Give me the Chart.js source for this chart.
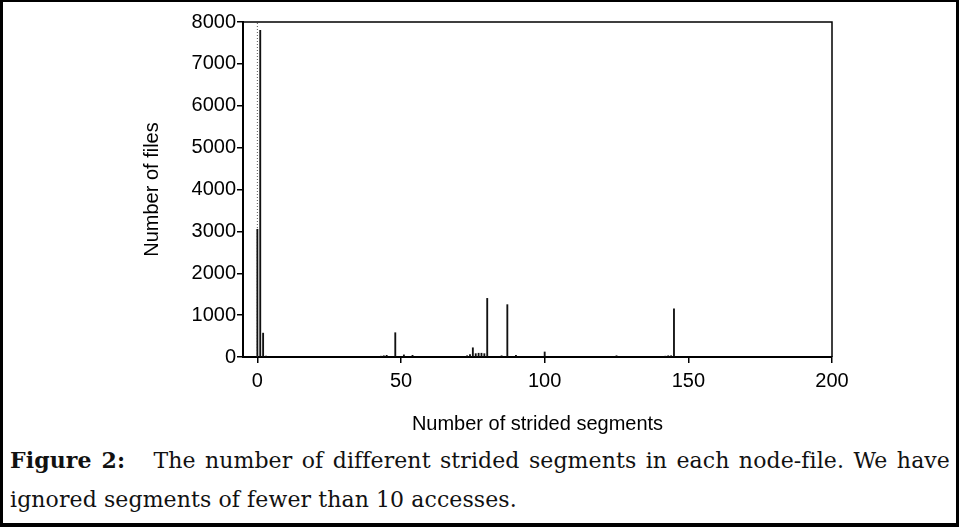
<!DOCTYPE html>
<html>
<head>
<meta charset="utf-8">
<script src="https://cdn.jsdelivr.net/npm/chart.js@4.4.0/dist/chart.umd.min.js"></script>
<style>
body { margin: 0; background: #fff; }
#frame { position: absolute; left: 0; top: 0; width: 959px; height: 527px; box-sizing: border-box;
         border: 3px solid #000; border-top-width: 2px; border-bottom-width: 4px; }
#wrap { position: absolute; left: 0; top: 0; width: 959px; height: 440px; }
.cap { position: absolute; left: 10px; width: 940px; font-family: "DejaVu Serif", serif;
       font-size: 22px; letter-spacing: 0.1px; color: #111; line-height: 26px; }
#cap1 { top: 447px; text-align: justify; text-align-last: justify; }
#cap2 { top: 487px; }
</style>
</head>
<body>
<div id="wrap"><canvas id="grafico"></canvas></div>
<div class="cap" id="cap1"><b>Figure 2:</b>&nbsp;&nbsp; The number of different strided segments in each node-file. We have</div>
<div class="cap" id="cap2">ignored segments of fewer than 10 accesses.</div>
<div id="frame"></div>
<script>
var segmentos = [0, 1, 2, 3, 43, 44, 45, 48, 51, 54, 73, 74, 75, 76, 77, 78, 79, 80, 85, 87, 90, 100, 125, 142, 143, 144, 145];
var arquivos = [3050, 7800, 570, 20, 20, 30, 40, 580, 50, 40, 30, 60, 220, 80, 90, 90, 80, 1400, 30, 1250, 40, 120, 30, 20, 30, 30, 1150];
var ticksX = [0, 50, 100, 150, 200];
var ticksY = [0, 1000, 2000, 3000, 4000, 5000, 6000, 7000, 8000];
var linhaZero = [0, 8000];

var fonteEixo = { family: '"Liberation Sans", Arial, sans-serif', size: 20 };

// moldura superior e direita do gráfico
var moldura = {
    id: 'moldura',
    afterDraw: function(chart) {
        var a = chart.chartArea, ctx = chart.ctx;
        ctx.save();
        ctx.strokeStyle = '#000';
        ctx.lineWidth = 1.5;
        ctx.beginPath();
        ctx.moveTo(a.left, a.top);
        ctx.lineTo(a.right, a.top);
        ctx.lineTo(a.right, a.bottom);
        ctx.stroke();
        ctx.restore();
    }
};

new Chart(document.getElementById('grafico').getContext('2d'), {
    type: 'bar',
    data: {
        datasets: [{
            type: 'line',
            data: linhaZero.map(function(v) { return { x: 0, y: v }; }),
            borderColor: '#555',
            borderWidth: 1,
            borderDash: [1, 2],
            pointRadius: 0,
            order: 2
        }, {
            data: segmentos.map(function(s, i) { return { x: s, y: arquivos[i] }; }),
            backgroundColor: '#111',
            barThickness: 1.2,
            grouped: false,
            order: 1
        }]
    },
    options: {
        responsive: true,
        maintainAspectRatio: false,
        animation: false,
        layout: { padding: { left: 136, right: 127, top: 22, bottom: 0 } },
        plugins: { legend: { display: false }, tooltip: { enabled: false } },
        scales: {
            x: {
                type: 'linear',
                min: -5,
                max: 200,
                offset: false,
                afterBuildTicks: function(s) { s.ticks = ticksX.map(function(v) { return { value: v }; }); },
                afterFit: function(s) { s.height = 83; },
                ticks: { color: '#000', font: fonteEixo, padding: 6, maxRotation: 0,
                         callback: function(v) { return String(v); } },
                grid: { offset: false, drawOnChartArea: false, color: '#000', lineWidth: 1.5, tickLength: 6 },
                border: { color: '#000', width: 2 },
                title: { display: true, text: 'Number of strided segments', color: '#000',
                         font: { family: '"Liberation Sans", Arial, sans-serif', size: 20 },
                         padding: { top: 0, bottom: 4 } }
            },
            y: {
                min: 0,
                max: 8000,
                afterBuildTicks: function(s) { s.ticks = ticksY.map(function(v) { return { value: v }; }); },
                afterFit: function(s) { s.width = 107; },
                ticks: { color: '#000', font: fonteEixo, padding: 1,
                         callback: function(v) { return String(v); } },
                grid: { drawOnChartArea: false, color: '#000', lineWidth: 1.5, tickLength: 6 },
                border: { color: '#000', width: 2 },
                title: { display: true, text: 'Number of files', color: '#000',
                         font: { family: '"Liberation Sans", Arial, sans-serif', size: 20 },
                         padding: { top: 4, bottom: 0 } }
            }
        }
    },
    plugins: [moldura]
});
</script>
</body>
</html>
